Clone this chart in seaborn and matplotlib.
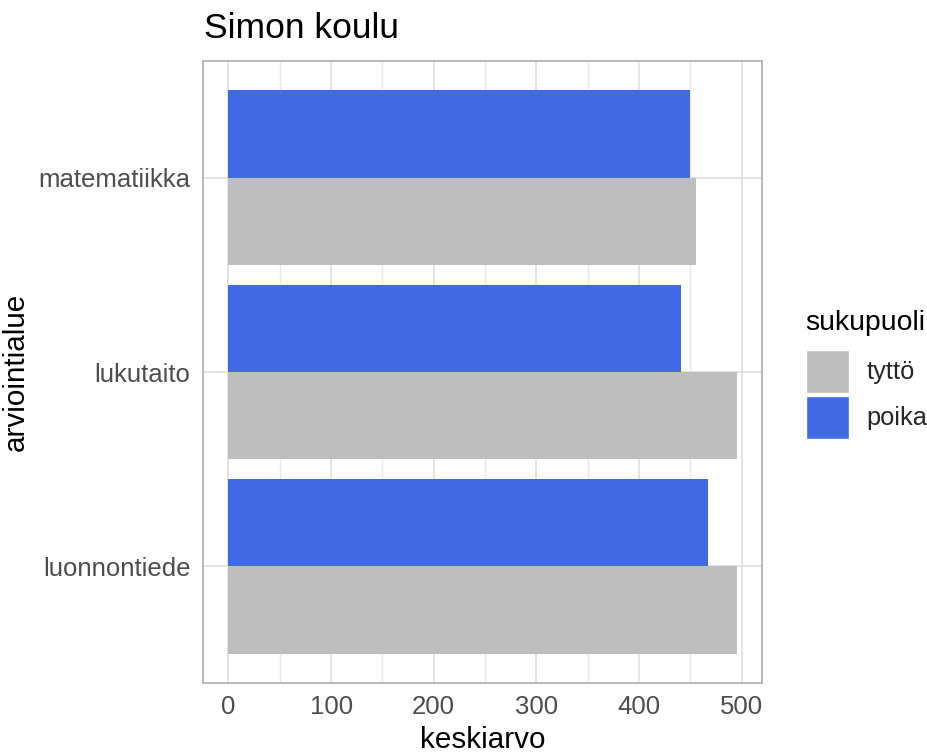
import numpy as np
import pandas as pd
import matplotlib
matplotlib.use("Agg")
import matplotlib.pyplot as plt
import seaborn as sns
from matplotlib.patches import Patch
from matplotlib.ticker import MultipleLocator

# data
alueet = ["matematiikka", "lukutaito", "luonnontiede"]
tytto = [455, 495, 495]
poika = [450, 441, 467]

df = pd.DataFrame({
    "arviointialue": alueet * 2,
    "sukupuoli": ["tyttö"] * 3 + ["poika"] * 3,
    "keskiarvo": tytto + poika,
})
colors = {"tyttö": "#BEBEBE", "poika": "#4169E1"}

sns.set_style("white")
plt.rcParams["font.family"] = ["Liberation Sans", "DejaVu Sans"]

W, H = 927, 754
fig = plt.figure(figsize=(W / 100, H / 100), dpi=100)
ax = fig.add_axes([203 / W, (H - 683) / H, (762 - 203) / W, (683 - 61) / H])

sns.barplot(data=df, x="keskiarvo", y="arviointialue", hue="sukupuoli",
            order=alueet, hue_order=["poika", "tyttö"], palette=colors,
            width=0.9, gap=0, orient="h", ax=ax, legend=False,
            linewidth=0, errorbar=None, saturation=1)

ax.set_xlim(-24.75, 519.75)
ax.set_ylim(2.6, -0.6)
ax.xaxis.set_major_locator(MultipleLocator(100))
ax.xaxis.set_minor_locator(MultipleLocator(50))
ax.set_axisbelow(True)
ax.grid(which="major", axis="both", color="#E0E0E0", linewidth=1.3)
ax.grid(which="minor", axis="x", color="#E8E8E8", linewidth=1.0)
for s in ax.spines.values():
    s.set_visible(True)
    s.set_color("#B3B3B3")
    s.set_linewidth(1.3)
ax.tick_params(axis="both", which="major", length=5, width=1.2, color="#B3B3B3",
               labelsize=18.5, labelcolor="#4D4D4D", pad=4)
ax.tick_params(axis="x", which="minor", length=0)

ax.set_xlabel("keskiarvo", fontsize=21.3, color="black", labelpad=5)
ax.set_ylabel("arviointialue", fontsize=21.3, color="black", labelpad=6)
fig.text(204 / W, 1 - 38 / H, "Simon koulu", fontsize=25.5, color="black",
         ha="left", va="baseline")

# legend: title as text, keys stacked below
fig.text(805 / W, 1 - 330 / H, "sukupuoli", fontsize=20.4, color="black",
         ha="left", va="baseline")
handles = [Patch(facecolor=colors["tyttö"], label="tyttö"),
           Patch(facecolor=colors["poika"], label="poika")]
leg = fig.legend(handles=handles, loc="upper left",
                 bbox_to_anchor=(806 / W, 1 - 350 / H), frameon=False,
                 fontsize=18.3, handlelength=1.69, handleheight=2.226,
                 labelspacing=0.12, handletextpad=0.7,
                 borderaxespad=0, borderpad=0)

fig.savefig("out.png", dpi=100)
